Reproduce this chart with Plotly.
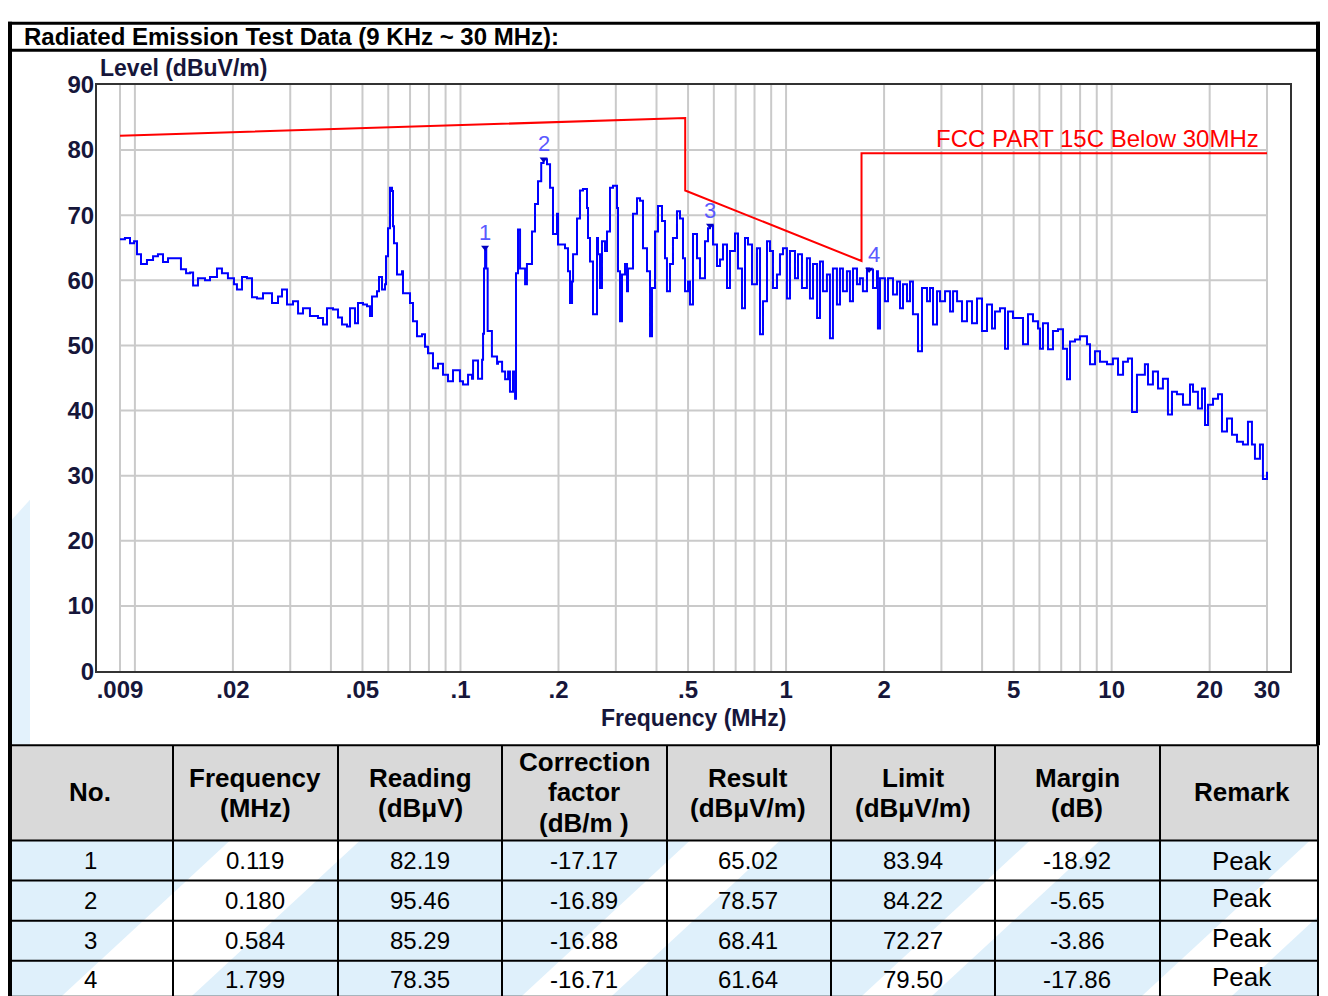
import math
import plotly.graph_objects as go

# ---------------- data ----------------
freq_mhz = [
    0.0090, 0.00932, 0.00966, 0.00994, 0.01015, 0.01044, 0.01089, 0.01137, 0.01177, 0.01220,
    0.01264, 0.01337, 0.01385, 0.01436, 0.01477, 0.01509, 0.01562, 0.01642, 0.01701, 0.01787,
    0.01851, 0.01931, 0.02015, 0.02058, 0.02133, 0.02209, 0.02289, 0.02371, 0.02474, 0.02563,
    0.02637, 0.02751, 0.02830, 0.02932, 0.03059, 0.03170, 0.03283, 0.03449, 0.03574, 0.03650,
    0.03783, 0.03891, 0.04060, 0.04206, 0.04326, 0.04482, 0.04578, 0.04743, 0.04845, 0.05018,
    0.05162, 0.05273, 0.05349, 0.05541, 0.05621, 0.05741, 0.05864, 0.05905, 0.05990, 0.06075,
    0.06161, 0.06206, 0.06249, 0.06383, 0.06612, 0.06659, 0.06997, 0.07147, 0.07352, 0.07616,
    0.07779, 0.07948, 0.08233, 0.08530, 0.08836, 0.09154, 0.09484, 0.09961, 0.1018, 0.1055,
    0.1085, 0.1093, 0.1124, 0.1132, 0.1165, 0.1173, 0.1181, 0.1190, 0.1200, 0.1212,
    0.1249, 0.1295, 0.1304, 0.1342, 0.1371, 0.1400, 0.1419, 0.1450, 0.1471, 0.1481,
    0.1502, 0.1524, 0.1579, 0.1600, 0.1658, 0.1694, 0.1730, 0.1770, 0.1800, 0.1844,
    0.1884, 0.1924, 0.1979, 0.1993, 0.2094, 0.2139, 0.2170, 0.2201, 0.2217, 0.2280,
    0.2328, 0.2378, 0.2447, 0.2464, 0.2499, 0.2553, 0.2626, 0.2645, 0.2682, 0.2720,
    0.2779, 0.2819, 0.2879, 0.2941, 0.3025, 0.3046, 0.3090, 0.3134, 0.3201, 0.3247,
    0.3270, 0.3388, 0.3485, 0.3560, 0.3636, 0.3740, 0.3821, 0.3875, 0.3958, 0.4043,
    0.4159, 0.4248, 0.4307, 0.4400, 0.4494, 0.4623, 0.4723, 0.4824, 0.4893, 0.4998,
    0.5069, 0.5177, 0.5326, 0.5440, 0.5636, 0.5757, 0.5840, 0.5964, 0.6135, 0.6267,
    0.6401, 0.6585, 0.6726, 0.6968, 0.7117, 0.7321, 0.7478, 0.7638, 0.7858, 0.8140,
    0.8315, 0.8493, 0.8737, 0.8924, 0.9115, 0.9377, 0.9578, 0.9783, 1.006, 1.028,
    1.065, 1.088, 1.119, 1.159, 1.184, 1.210, 1.245, 1.271, 1.298, 1.335,
    1.364, 1.393, 1.433, 1.464, 1.495, 1.538, 1.571, 1.605, 1.651, 1.686,
    1.722, 1.772, 1.799, 1.849, 1.902, 1.915, 1.943, 2.012, 2.056, 2.130,
    2.192, 2.238, 2.286, 2.352, 2.402, 2.453, 2.542, 2.615, 2.709, 2.768,
    2.827, 2.908, 2.970, 3.078, 3.189, 3.257, 3.351, 3.470, 3.595, 3.724,
    3.858, 3.997, 4.141, 4.290, 4.382, 4.540, 4.703, 4.804, 4.977, 5.156,
    5.342, 5.534, 5.733, 5.939, 6.024, 6.152, 6.375, 6.603, 6.842, 7.088,
    7.292, 7.448, 7.716, 7.992, 8.398, 8.579, 8.887, 9.207, 9.675, 10.09,
    10.46, 10.84, 11.22, 11.55, 11.96, 12.65, 12.93, 13.39, 13.88, 14.37,
    14.89, 15.32, 15.87, 16.56, 17.40, 17.78, 18.41, 18.94, 19.35, 19.77,
    20.48, 21.22, 21.82, 22.61, 23.42, 24.26, 25.31, 26.22, 26.97, 27.55,
    28.54, 29.15, 30.00,
]
level_dbuv_m = [
    66.3, 66.5, 65.7, 66.0, 64.0, 62.5, 63.1, 63.7, 64.0, 62.8,
    63.4, 63.4, 61.7, 61.1, 61.2, 59.2, 60.3, 60.0, 60.5, 61.8,
    61.1, 60.3, 59.4, 58.6, 60.5, 60.3, 57.4, 57.2, 58.0, 58.0,
    56.5, 57.5, 58.6, 56.3, 56.8, 54.9, 55.7, 54.5, 54.5, 54.2,
    53.2, 55.7, 55.5, 54.3, 53.2, 52.9, 55.7, 53.4, 56.5, 56.3,
    56.0, 54.5, 57.5, 58.3, 60.5, 58.6, 59.4, 63.7, 68.0, 74.2,
    73.7, 68.3, 65.7, 60.9, 61.4, 58.0, 56.5, 53.7, 51.4, 51.7,
    49.8, 48.8, 46.5, 47.2, 45.5, 44.5, 46.2, 44.5, 44.0, 45.5,
    44.9, 47.7, 47.7, 44.9, 47.8, 51.8, 61.8, 65.02, 61.8, 52.2,
    48.3, 47.2, 47.5, 46.0, 44.8, 46.0, 42.9, 46.0, 41.8, 61.1,
    67.8, 61.8, 59.4, 62.5, 67.5, 71.7, 75.2, 78.0, 78.57, 77.8,
    74.2, 67.1, 70.2, 65.5, 64.9, 61.4, 56.5, 59.8, 64.0, 69.5,
    73.8, 74.0, 71.1, 66.5, 62.9, 54.8, 66.5, 64.0, 58.8, 66.0,
    64.5, 67.5, 74.2, 74.5, 71.1, 61.4, 53.7, 60.9, 62.5, 58.3,
    61.8, 70.2, 72.6, 72.2, 64.9, 61.4, 51.4, 58.8, 67.5, 71.4,
    69.1, 63.4, 58.3, 62.5, 66.5, 70.6, 69.5, 63.4, 58.3, 59.8,
    56.3, 67.1, 63.4, 60.3, 66.0, 68.0, 68.41, 65.5, 62.2, 63.2,
    65.5, 58.8, 64.5, 67.2, 61.8, 55.7, 66.5, 65.5, 59.4, 64.9,
    51.7, 56.8, 66.0, 64.5, 58.8, 60.9, 64.0, 64.9, 57.2, 64.5,
    60.3, 64.0, 58.8, 63.4, 57.2, 62.5, 54.2, 62.9, 58.3, 60.9,
    51.1, 61.8, 56.3, 61.8, 58.3, 61.4, 56.8, 61.8, 59.4, 60.3,
    58.3, 61.8, 61.64, 58.8, 61.4, 52.6, 60.3, 56.8, 60.3, 57.8,
    59.8, 55.7, 59.4, 56.8, 59.8, 54.8, 49.1, 58.8, 56.8, 58.8,
    53.2, 58.3, 56.8, 58.3, 55.2, 58.3, 56.8, 53.7, 56.8, 53.4,
    57.2, 52.2, 56.3, 52.6, 55.2, 55.7, 49.5, 55.2, 54.2, 54.2,
    50.2, 54.8, 53.7, 52.6, 49.5, 53.4, 49.4, 52.2, 52.5, 49.5,
    44.8, 50.6, 50.9, 51.4, 50.2, 47.1, 49.1, 47.5, 47.1, 48.0,
    45.5, 47.5, 48.0, 39.8, 45.5, 47.1, 44.0, 46.0, 43.4, 44.9,
    39.4, 42.9, 42.5, 40.9, 44.0, 42.9, 40.3, 43.4, 37.8, 40.9,
    41.8, 42.5, 36.8, 38.8, 36.3, 35.2, 34.8, 38.3, 34.8, 32.6,
    34.8, 29.5, 30.6,
]

limit_freq = [0.009, 0.49, 0.49, 1.705, 1.705, 30.0]
limit_level = [82.19, 84.90, 73.79, 62.96, 79.50, 79.50]

marker_no = ["1", "2", "3", "4"]
marker_freq = [0.119, 0.180, 0.584, 1.799]
marker_level = [65.02, 78.57, 68.41, 61.64]

x_tick_vals = [0.009, 0.02, 0.05, 0.1, 0.2, 0.5, 1, 2, 5, 10, 20, 30]
x_tick_text = [".009", ".02", ".05", ".1", ".2", ".5", "1", "2", "5", "10", "20", "30"]
y_tick_vals = [0, 10, 20, 30, 40, 50, 60, 70, 80, 90]
grid_freq = [0.009, 0.01, 0.02, 0.03, 0.04, 0.05, 0.06, 0.07, 0.08, 0.09,
             0.1, 0.2, 0.3, 0.4, 0.5, 0.6, 0.7, 0.8, 0.9,
             1, 2, 3, 4, 5, 6, 7, 8, 9, 10, 20, 30]
grid_level = [10, 20, 30, 40, 50, 60, 70, 80]

tbl_header = [["No."], ["Frequency", "(MHz)"], ["Reading", "(dBμV)"],
              ["Correction", "factor", "(dB/m )"], ["Result", "(dBμV/m)"],
              ["Limit", "(dBμV/m)"], ["Margin", "(dB)"], ["Remark"]]
tbl_no = ["1", "2", "3", "4"]
tbl_freq = ["0.119", "0.180", "0.584", "1.799"]
tbl_reading = ["82.19", "95.46", "85.29", "78.35"]
tbl_corr = ["-17.17", "-16.89", "-16.88", "-16.71"]
tbl_result = ["65.02", "78.57", "68.41", "61.64"]
tbl_limit = ["83.94", "84.22", "72.27", "79.50"]
tbl_margin = ["-18.92", "-5.65", "-3.86", "-17.86"]
tbl_remark = ["Peak", "Peak", "Peak", "Peak"]

# ---------------- layout helpers ----------------
# positions below are given in photographed-picture pixels and mapped to paper
OFF = 8
W, H = 1312, 1004
VS, VO = 0.971, 13.5
def px(x):
    return (x - OFF) / W
def py(y):
    page = (y - VO) / VS
    return 1 - (page - OFF) / H

FONT = "Liberation Sans, Arial, sans-serif"
TXT = "#16163a"

shapes = []
annots = []

def hline(x0, x1, y, color="#000", width=2):
    shapes.append(dict(type="line", xref="paper", yref="paper", x0=px(x0), x1=px(x1),
                       y0=py(y), y1=py(y), line=dict(color=color, width=width), layer="above"))

def vline(x, y0, y1, color="#000", width=2):
    shapes.append(dict(type="line", xref="paper", yref="paper", x0=px(x), x1=px(x),
                       y0=py(y0), y1=py(y1), line=dict(color=color, width=width), layer="above"))

def rect(x0, y0, x1, y1, fill):
    shapes.append(dict(type="rect", xref="paper", yref="paper", x0=px(x0), x1=px(x1),
                       y0=py(y0), y1=py(y1), fillcolor=fill, line=dict(width=0), layer="below"))

def poly(points, fill):
    path = "M " + " L ".join("{},{}".format(px(a), py(b)) for a, b in points) + " Z"
    shapes.append(dict(type="path", xref="paper", yref="paper", layer="below", path=path,
                       fillcolor=fill, line=dict(width=0)))

def text(x, y, s, size, bold=False, color="#000", xanchor="center"):
    annots.append(dict(x=px(x), y=py(y), xref="paper", yref="paper", text=s, showarrow=False,
                       xanchor=xanchor, yanchor="middle",
                       font=dict(family=FONT, size=size, color=color,
                                 weight="bold" if bold else "normal")))

fig = go.Figure()

# grid lines as traces (data coords)
gx, gy = [], []
for f in grid_freq:
    gx += [f, f, None]
    gy += [0, 90, None]
for lv in grid_level:
    gx += [grid_freq[0], grid_freq[-1], None]
    gy += [lv, lv, None]
fig.add_trace(go.Scatter(x=gx, y=gy, mode="lines", line=dict(color="#cacaca", width=2),
                         hoverinfo="skip", showlegend=False))

fig.add_trace(go.Scatter(x=freq_mhz, y=level_dbuv_m, mode="lines", line_shape="hv",
                         line=dict(color="#0000ff", width=2), showlegend=False))
fig.add_trace(go.Scatter(x=limit_freq, y=limit_level, mode="lines",
                         line=dict(color="#ff0000", width=2), showlegend=False))
fig.add_trace(go.Scatter(x=marker_freq, y=marker_level, mode="markers",
                         marker=dict(symbol="triangle-down", size=7, color="#0000c0"),
                         showlegend=False))
for i, (n, f, lv) in enumerate(zip(marker_no, marker_freq, marker_level)):
    annots.append(dict(x=math.log10(f), y=lv, xref="x", yref="y", text=n, showarrow=False,
                       xanchor="left" if i == 3 else "center", yanchor="bottom",
                       xshift=-3 if i == 3 else 0, yshift=1,
                       font=dict(family=FONT, size=22, color="#5a5aff")))

# watermark at left edge of chart area
poly([(10, 520), (30, 498), (30, 742), (10, 742)], "#e3f2fc")

# limit label
text(1261, 138, "FCC PART 15C Below 30MHz", 24, color="#ff0000", xanchor="right")
# axis titles
text(98, 67, "Level (dBuV/m)", 23, bold=True, color=TXT, xanchor="left")
text(693, 716, "Frequency (MHz)", 23, bold=True, color=TXT)
# main title
text(22, 35.5, "Radiated Emission Test Data (9 KHz ~ 30 MHz):", 24, bold=True, xanchor="left")

# outer frame
hline(8, 1320, 22.5, width=3)
hline(8, 1320, 49.5, width=3)
vline(10, 21, 996, width=4)
vline(1318, 21, 743, width=4)

# ---------------- table ----------------
col_edges = [10, 173, 338, 502, 667, 831, 995, 1160, 1318]
row_edges = [743, 838, 878, 918, 958, 994]
rect(col_edges[0], row_edges[0], col_edges[-1], row_edges[1], "#d9d9d9")
rect(col_edges[0], row_edges[1], col_edges[-1], row_edges[-1], "#dff0fb")
# watermark swooshes (white diagonal bands)
for a, w in [(60, 130), (520, 90), (860, 70), (1140, 90)]:
    poly([(a, 995), (a + w, 995), (a + w + 170, 838), (a + 170, 838)], "#ffffff")
for y in row_edges:
    hline(col_edges[0], col_edges[-1], y, width=2)
for x in col_edges:
    vline(x, row_edges[0], row_edges[-1], width=2)

col_centers = [90, 255, 420, 584, 748, 913, 1077, 1242]
header_y = {1: [790], 2: [776, 806], 3: [760, 790, 821]}
for c, lines in zip(col_centers, tbl_header):
    for s, yy in zip(lines, header_y[len(lines)]):
        text(c, yy, s, 26, bold=True)

row_centers = [858, 898, 938, 977]
columns = [tbl_no, tbl_freq, tbl_reading, tbl_corr, tbl_result, tbl_limit, tbl_margin, tbl_remark]
for ci, col in enumerate(columns):
    for ri, val in enumerate(col):
        yc = row_centers[ri]
        if ci == 7:
            text(col_centers[ci], yc - (0 if ri == 0 else 3), val, 26)
        else:
            text(col_centers[ci], yc, val, 24)

fig.update_layout(
    width=W, height=H, autosize=False,
    margin=dict(l=0, r=0, t=0, b=0),
    paper_bgcolor="white", plot_bgcolor="white",
    shapes=shapes, annotations=annots,
    xaxis=dict(type="log", domain=[px(97), px(1290)],
               range=[math.log10(0.009) - 23 / 325.6, math.log10(30) + 23 / 325.6],
               tickvals=x_tick_vals, ticktext=x_tick_text, showgrid=False, zeroline=False,
               showline=True, mirror=True, linecolor="#333333", linewidth=2, ticks="",
               tickfont=dict(family=FONT, size=24, color=TXT, weight="bold")),
    yaxis=dict(domain=[py(669), py(84)], range=[0, 90], tickvals=y_tick_vals,
               showgrid=False, zeroline=False, showline=True, mirror=True,
               linecolor="#333333", linewidth=2, ticks="",
               tickfont=dict(family=FONT, size=24, color=TXT, weight="bold")),
)
try:
    fig.update_xaxes(ticklabelstandoff=-4)
    fig.update_yaxes(ticklabelstandoff=-4)
except Exception:
    pass

fig.write_html("out.html", config={"responsive": False})
